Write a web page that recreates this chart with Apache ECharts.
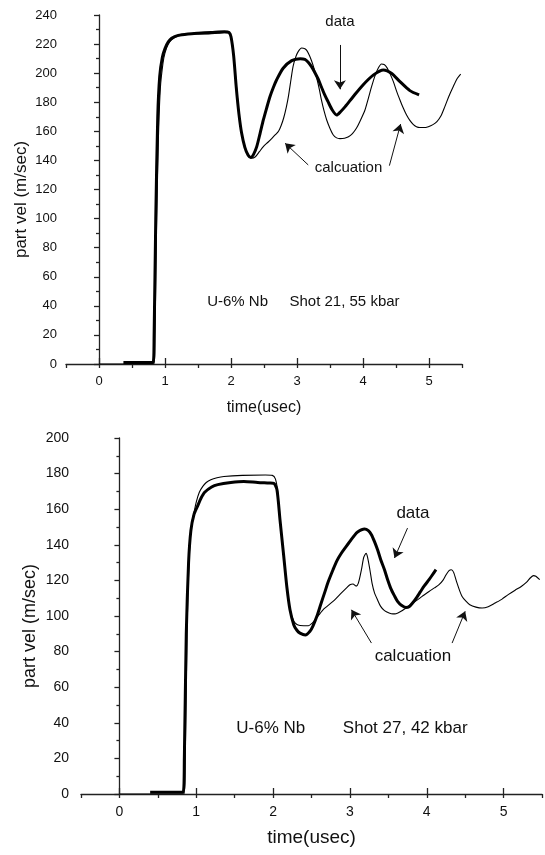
<!DOCTYPE html>
<html><head><meta charset="utf-8">
<script src="https://cdn.jsdelivr.net/npm/echarts@6/dist/echarts.min.js"></script>
<style>html,body{margin:0;padding:0;background:#fff}#c{width:545px;height:855px}</style>
</head><body><div id="c"></div><script>
// ---------- data ----------
const xTickLabels = [0, 1, 2, 3, 4, 5];

const topDataTime = [0.37,0.5,0.65,0.82,0.835,0.86,0.89,0.92,0.96,1.0,1.05,1.1,1.2,1.35,1.5,1.7,1.9,1.97,2.0,2.04,2.08,2.12,2.16,2.21,2.26,2.30,2.34,2.39,2.44,2.49,2.54,2.59,2.64,2.69,2.79,2.92,3.05,3.12,3.17,3.22,3.27,3.32,3.37,3.42,3.47,3.53,3.60,3.66,3.73,3.85,4.0,4.16,4.31,4.43,4.56,4.71,4.85];
const topDataVel  = [1,1,1,1,20,100,170,198,211,217,221.5,224,226,227,227.5,228,228.5,228,225,212,190,172,159,149,143.5,142,144,149.5,158.5,167.8,176,183.8,190,195.3,203.4,208.6,210,209.5,207.5,204.5,200.5,196,190.5,185,180.4,175,171.2,173.5,177,183.8,191.9,198.8,202.2,199.9,194.2,188,185];

const topCalcTime = [0,0.83,0.845,0.87,0.9,0.93,0.97,1.0,1.05,1.1,1.2,1.4,1.6,1.8,1.96,2.0,2.04,2.08,2.12,2.16,2.21,2.26,2.31,2.37,2.43,2.49,2.56,2.62,2.68,2.72,2.76,2.80,2.84,2.87,2.91,2.94,2.98,3.02,3.07,3.12,3.15,3.19,3.22,3.26,3.30,3.34,3.37,3.41,3.45,3.50,3.55,3.60,3.65,3.72,3.78,3.84,3.90,3.96,4.03,4.08,4.13,4.18,4.23,4.28,4.32,4.36,4.41,4.46,4.51,4.56,4.61,4.66,4.71,4.76,4.81,4.86,4.92,4.99,5.06,5.12,5.18,5.24,5.30,5.37,5.43,5.48];
const topCalcVel  = [0,0,10,90,155,190,207,214,220,223,225.5,227,227,227.5,228,226,213,192,173,159,149,143.5,141.5,142.5,146,149.5,152.5,155.2,158,160,164,169.5,177,184,196,204.5,211,215,217.3,216.8,215.5,212,208.5,203,196.5,188.5,181.6,174,167.8,162,157.5,155.5,155,155.3,156.3,158.5,162.1,167.5,174.7,182.5,190.7,198,203.4,206.3,206,204,199.5,194.2,187.5,181.6,176,171.2,167.5,164.8,163.2,162.6,162.6,163.2,164.6,166.7,170.5,177,184,191,196.5,199.4];

const botDataTime = [0.40,0.55,0.7,0.83,0.845,0.87,0.9,0.93,0.97,1.02,1.06,1.11,1.2,1.28,1.45,1.62,1.8,1.95,2.01,2.05,2.09,2.14,2.18,2.22,2.27,2.31,2.35,2.42,2.48,2.52,2.57,2.62,2.67,2.72,2.78,2.83,2.89,2.95,3.0,3.05,3.10,3.19,3.24,3.28,3.32,3.36,3.40,3.45,3.49,3.53,3.58,3.62,3.67,3.73,3.77,3.81,3.87,3.92,3.97,4.03,4.08,4.12];
const botDataVel  = [1,1,1,1,20,90,130,148,157,162,166,169.5,172.5,173.8,175,175.6,175,174.7,174.5,171,154,133,116,103.5,95,92,90.4,89.3,91.4,94.5,99.8,106.5,113,119.5,126,131,135.4,139,141.9,144.8,147.2,148.9,148,145.7,141.8,137.2,131.8,126,120.5,115.7,111.3,108.2,106,104.8,105.2,107,110.5,113.8,117,120.4,123.5,126];

const botCalcTime = [0,0.84,0.855,0.88,0.91,0.94,0.97,1.0,1.04,1.085,1.13,1.19,1.27,1.36,1.6,1.9,1.99,2.03,2.06,2.09,2.14,2.18,2.22,2.27,2.31,2.35,2.46,2.51,2.55,2.65,2.78,2.89,2.96,3.0,3.04,3.08,3.11,3.15,3.18,3.21,3.23,3.26,3.29,3.32,3.36,3.40,3.45,3.51,3.56,3.60,3.66,3.73,3.80,3.85,3.94,4.03,4.10,4.16,4.21,4.25,4.29,4.32,4.35,4.39,4.43,4.46,4.51,4.56,4.64,4.72,4.80,4.89,4.98,5.06,5.15,5.23,5.30,5.35,5.39,5.42,5.47];
const botCalcVel  = [0,0,15,90,135,152,158,164,169.5,172.8,175,176.6,177.7,178.4,179,179.2,179,177,170,154,133.5,116.6,103.5,97,95.2,94.7,94.5,96,98,103.5,108.2,113,116,117.6,118,116.8,118.5,126,133,135.2,133,126,118,113,109,105.4,103,101.7,101.2,101.3,102.5,104.5,106.8,108.2,111,113.8,115.8,117.6,120,123,125.5,126,124.5,119,114,111,108.3,106.3,105,104.5,105.2,107.3,109.5,112,114.5,116.6,119,121.5,122.7,122.3,120.4];

// annotations (data coordinates)
const topNotes  = [['data',3.65,235.4],['calcuation',3.78,134.6],['U-6% Nb',2.10,42.8],['Shot 21, 55 kbar',3.72,42.8]];
const topArrows = [[3.65,219.4,3.65,188.9],[3.17,136.9,2.82,151.8],[4.40,136.4,4.57,165]];
const botNotes  = [['data',3.82,157.9],['calcuation',3.82,77.3],['U-6% Nb',1.97,36.7],['Shot 27, 42 kbar',3.72,36.7]];
const botArrows = [[3.75,149.4,3.58,132.6],[3.28,84.8,3.02,103.5],[4.33,84.8,4.50,102.6]];

// ---------- chart ----------
const FONT = '"Liberation Sans", Arial, sans-serif';
const INK = '#111';
const zip = (a, b) => a.map((v, i) => [v, b[i]]);
const arrowData = arr => arr.map(a => [{coord:[a[0],a[1]]},{coord:[a[2],a[3]]}]);

function xAxes(gridIndex, fs, nameFs, nameGap) {
  const line = {lineStyle:{color:'#222', width:1.3}};
  return [{
    type:'value', gridIndex, min:-0.5, max:5.5, interval:0.5,
    axisLine:{show:true, onZero:false, ...line},
    axisTick:{show:true, length:4, ...line},
    splitLine:{show:false},
    axisLabel:{fontSize:fs, color:INK, fontFamily:FONT, margin:11,
      formatter: v => xTickLabels.includes(v) ? String(v) : ''},
    name:'time(usec)', nameLocation:'middle', nameGap, nameMoveOverlap:false,
    nameTextStyle:{fontSize:nameFs, color:INK, fontFamily:FONT}
  },{
    type:'value', gridIndex, min:-0.5, max:5.5,
    axisLine:{show:false}, splitLine:{show:false}, axisLabel:{show:false},
    axisTick:{show:true, length:6, customValues:xTickLabels, lineStyle:{color:'#222', width:1.3}}
  }];
}
function yAxis(gridIndex, max, fs, nameFs, nameGap, margin) {
  const line = {lineStyle:{color:'#222', width:1.3}};
  return {
    type:'value', gridIndex, min:0, max, interval:20,
    axisLine:{show:true, ...line},
    axisTick:{show:true, length:5, ...line},
    minorTick:{show:true, splitNumber:2, length:3, ...line},
    splitLine:{show:false}, minorSplitLine:{show:false},
    axisLabel:{fontSize:fs, color:INK, fontFamily:FONT, margin},
    name:'part vel (m/sec)', nameLocation:'middle', nameGap, nameMoveOverlap:false,
    nameTextStyle:{fontSize:nameFs, color:INK, fontFamily:FONT, padding:[0,20,0,0]}
  };
}
function markLine(arrows) {
  return {silent:true, animation:false, symbol:['none','arrow'], symbolSize:9,
    label:{show:false}, lineStyle:{color:'#111', width:1, type:'solid'},
    itemStyle:{color:'#111'},
    emphasis:{disabled:true}, data:arrowData(arrows)};
}

const chart = echarts.init(document.getElementById('c'), null, {renderer:'canvas'});
chart.setOption({
  animation:false,
  backgroundColor:'#fff',
  grid:[{left:66, top:15, width:396, height:349},{left:81, top:438, width:466, height:356}],
  xAxis:[...xAxes(0,13,16,36), ...xAxes(1,14,19,34)],
  yAxis:[yAxis(0,240,13,17,36,9), yAxis(1,200,14,18,42,12)],
  series:[
    {type:'line', name:'calc-top', xAxisIndex:0, yAxisIndex:0, data:zip(topCalcTime, topCalcVel),
     showSymbol:false, smooth:0.25, lineStyle:{color:'#000', width:1.1}, markLine:markLine(topArrows)},
    {type:'line', name:'data-top', xAxisIndex:0, yAxisIndex:0, data:zip(topDataTime, topDataVel),
     showSymbol:false, smooth:0.25, lineStyle:{color:'#000', width:3}},
    {type:'line', name:'calc-bot', xAxisIndex:2, yAxisIndex:1, data:zip(botCalcTime, botCalcVel),
     showSymbol:false, smooth:0.25, lineStyle:{color:'#000', width:1.1}, markLine:markLine(botArrows)},
    {type:'line', name:'data-bot', xAxisIndex:2, yAxisIndex:1, data:zip(botDataTime, botDataVel),
     showSymbol:false, smooth:0.25, lineStyle:{color:'#000', width:3}}
  ]
});

function notes(list, gridIndex, fs) {
  return list.map(n => {
    const p = chart.convertToPixel({gridIndex}, [n[1], n[2]]);
    return {type:'text', x:p[0], y:p[1], silent:true,
      style:{text:n[0], fill:INK, font:fs + 'px ' + FONT, align:'center', verticalAlign:'middle'}};
  });
}
chart.setOption({graphic:[...notes(topNotes,0,15), ...notes(botNotes,1,17)]});
</script></body></html>
